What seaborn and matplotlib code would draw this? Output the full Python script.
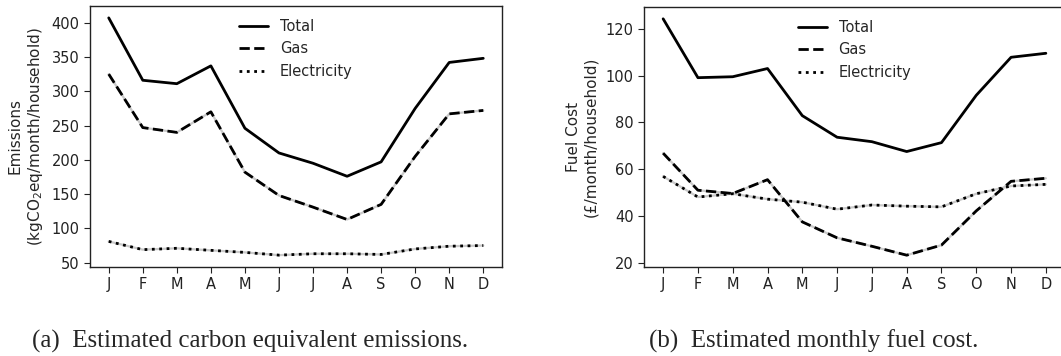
import numpy as np
import pandas as pd
import matplotlib
matplotlib.use("Agg")
import matplotlib.pyplot as plt
import seaborn as sns

# monthly values
months = ["J", "F", "M", "A", "M", "J", "J", "A", "S", "O", "N", "D"]

emis_total = [407, 316, 311, 337, 246, 210, 195, 176, 197, 275, 342, 348]
emis_gas = [325, 247, 240, 270, 182, 148, 131, 113, 135, 205, 267, 272]
emis_elec = [81, 69, 71, 68, 65, 61, 63, 63, 62, 70, 74, 75]

cost_total = [124.2, 99.1, 99.5, 103.0, 82.9, 73.7, 71.8, 67.6, 71.4, 91.6, 107.8, 109.5]
cost_gas = [66.9, 51.1, 49.7, 55.6, 37.6, 30.8, 27.2, 23.4, 27.7, 42.3, 54.9, 56.2]
cost_elec = [57.0, 48.2, 49.6, 47.3, 46.0, 43.0, 44.8, 44.3, 44.0, 49.6, 52.9, 53.6]

sns.set_style("white")
plt.rcParams["font.family"] = ["DejaVu Sans"]
plt.rcParams["font.size"] = 10
plt.rcParams["axes.edgecolor"] = "#222222"
plt.rcParams["xtick.bottom"] = True
plt.rcParams["ytick.left"] = True

fig = plt.figure(figsize=(10.61, 3.56), dpi=100)
ax1 = fig.add_axes([90 / 1061, 89 / 356, 412 / 1061, 261 / 356])
ax2 = fig.add_axes([644 / 1061, 89 / 356, 421 / 1061, 260 / 356])

x = np.arange(len(months))


def draw(ax, total, gas, elec, ylabel):
    df = pd.DataFrame({"m": x, "Total": total, "Gas": gas, "Electricity": elec})
    # light grey under the broken lines, as in the original
    for col in ["Gas", "Electricity"]:
        sns.lineplot(data=df, x="m", y=col, ax=ax, color="#c9c9c9", lw=1.6, legend=False)
    sns.lineplot(data=df, x="m", y="Total", ax=ax, color="black", lw=2, label="Total")
    sns.lineplot(data=df, x="m", y="Gas", ax=ax, color="black", lw=2, ls="--", label="Gas")
    sns.lineplot(data=df, x="m", y="Electricity", ax=ax, color="black", lw=2, ls=":", label="Electricity")
    ax.set_xticks(x)
    ax.set_xticklabels(months)
    ax.set_xlabel("")
    ax.set_ylabel(ylabel, fontsize=11, labelpad=5)
    ax.tick_params(labelsize=10.5, colors="#222222", length=4)
    ax.legend(loc="upper center", frameon=False, fontsize=10.5)
    for s in ax.spines.values():
        s.set_linewidth(1)


draw(ax1, emis_total, emis_gas, emis_elec, "Emissions\n(kgCO$_2$eq/month/household)")
draw(ax2, cost_total, cost_gas, cost_elec, "Fuel Cost\n(£/month/household)")

fig.text(32 / 1061, 1 - 341 / 356, "(a)  Estimated carbon equivalent emissions.",
         family="Liberation Serif", fontsize=18, va="center", ha="left")
fig.text(649 / 1061, 1 - 341 / 356, "(b)  Estimated monthly fuel cost.",
         family="Liberation Serif", fontsize=18, va="center", ha="left")

fig.savefig("out.png", dpi=100)
